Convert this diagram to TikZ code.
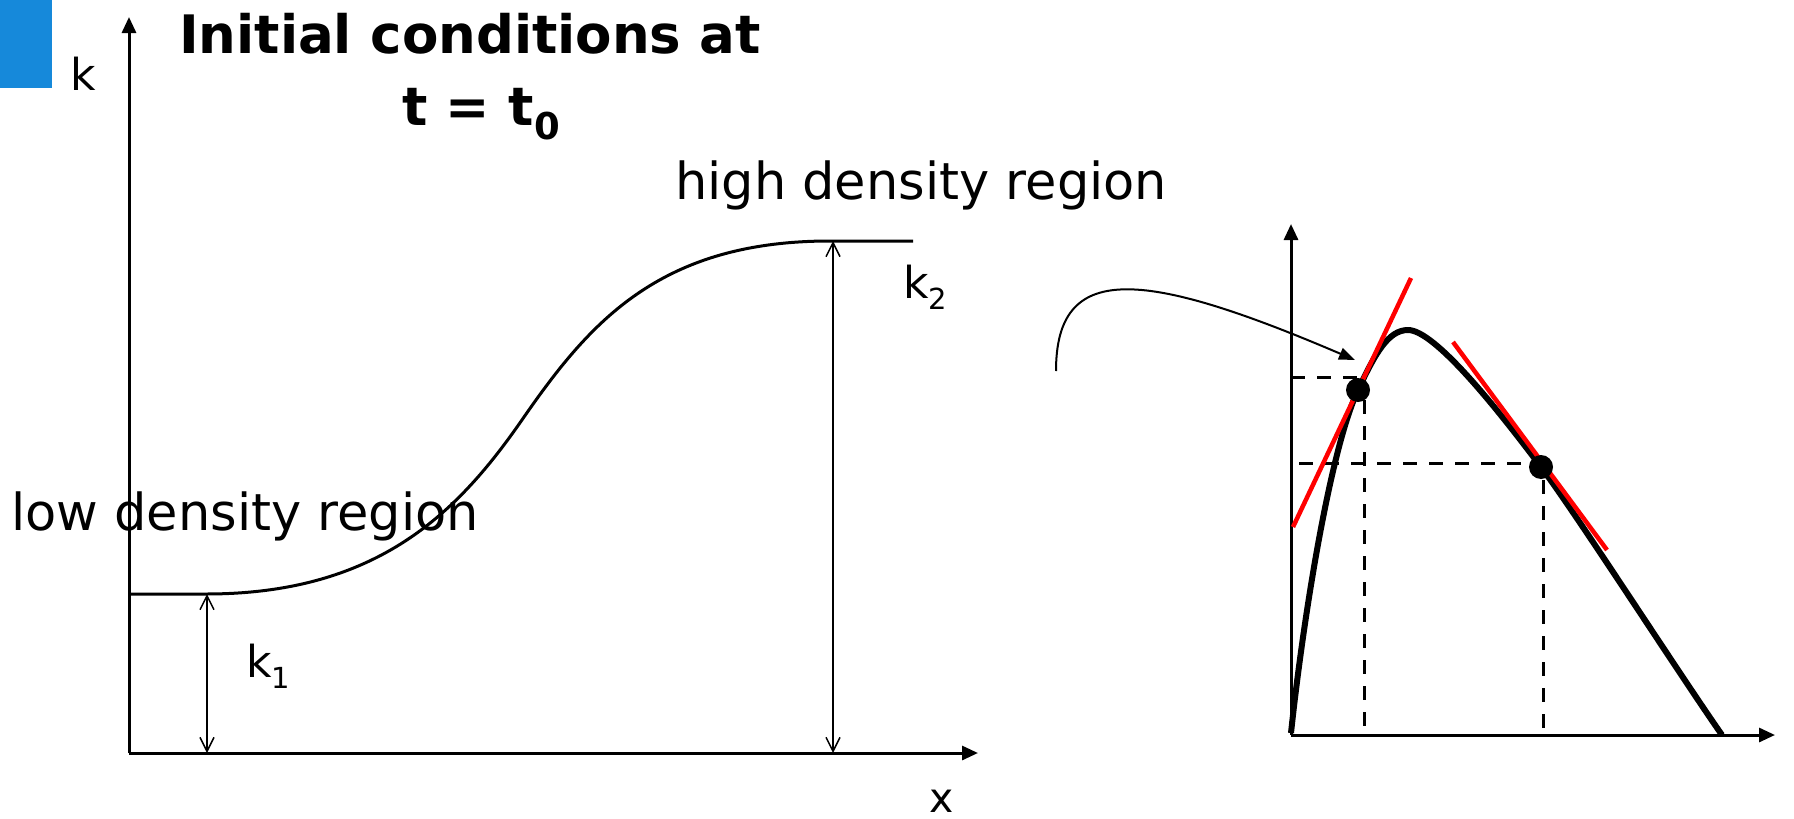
\documentclass[tikz,border=0pt]{standalone}
\usepackage{fontspec}
\setmainfont{DejaVu Sans}
\usetikzlibrary{arrows.meta}
\definecolor{blueblk}{HTML}{1689DA}
\begin{document}
\begin{tikzpicture}[x=1pt,y=-1pt,
  axis/.style={line width=3pt,-{Triangle[length=16pt,width=14pt]}},
  dim/.style={line width=1.5pt,{Straight Barb[length=14pt,width=14pt]}-{Straight Barb[length=14pt,width=14pt]}},
  curveL/.style={line width=3pt},
  curveR/.style={line width=6pt},
  tangent/.style={red, line width=4.5pt},
  guide/.style={line width=3pt, dash pattern=on 14pt off 12pt},
  dot/.style={circle, fill=black, inner sep=0pt, minimum size=24pt},
  lbl/.style={inner sep=0pt, anchor=base west, font=\fontsize{44}{50}\selectfont},
  big/.style={inner sep=0pt, anchor=base west, font=\fontsize{51}{60}\selectfont},
  ttl/.style={inner sep=0pt, font=\fontsize{53}{60}\selectfont\bfseries}]
\useasboundingbox (0,0) rectangle (1794,819);
\fill[blueblk] (0,0) rectangle (52,88);
% left plot
\coordinate (O1) at (129,753);
\coordinate (Y1) at (129,17);
\coordinate (X1) at (978,753);
\draw[axis] (O1) -- (Y1);
\draw[axis] (O1) -- (X1);
\coordinate (L0) at (129,594);
\coordinate (L1) at (206,594);
\coordinate (Lm) at (524,417);
\coordinate (L2) at (830,241);
\coordinate (L3) at (913,241);
\draw[curveL, line join=round] (L0) -- (L1) .. controls (380,594) and (460,510) .. (Lm) .. controls (590,322) and (660,241) .. (L2) -- (L3);
\coordinate (k1t) at (207,594);
\coordinate (k1b) at (207,753);
\coordinate (k2t) at (833,241);
\coordinate (k2b) at (833,753);
\draw[dim] (k1t) -- (k1b);
\draw[dim] (k2t) -- (k2b);
\node[lbl] (klab) at (70,90) {k};
\node[lbl] (k1lab) at (246,677) {k\raisebox{-11pt}{\fontsize{29}{30}\selectfont 1}};
\node[lbl] (k2lab) at (903,298) {k\raisebox{-11pt}{\fontsize{29}{30}\selectfont 2}};
\node[lbl, font=\fontsize{41}{50}\selectfont] (xlab) at (929,812) {x};
\node[big] (low) at (11,530) {low density region};
\node[big] (high) at (675,199) {high density region};
\node[ttl, anchor=base] (t1) at (470,53) {Initial conditions at};
\node[ttl, anchor=base west] (t2) at (402,125) {t = t\raisebox{-14pt}{\fontsize{37}{40}\selectfont\bfseries 0}};
% right plot
\coordinate (O2) at (1291,735);
\coordinate (Y2) at (1291,224);
\coordinate (X2) at (1775,735);
\draw[guide] (1291,377) -- (1360,377);
\draw[guide] (1364,400) -- (1364,735);
\draw[guide] (1299,463) -- (1537,463);
\draw[guide] (1543,480) -- (1543,735);
\draw[axis] (O2) -- (Y2);
\draw[axis] (O2) -- (X2);
\coordinate (c0) at (1291,733);
\coordinate (p1) at (1358,390);
\coordinate (pk) at (1408,330);
\coordinate (p2) at (1541,467);
\coordinate (c9) at (1722,735);
\draw[curveR, line join=round] (c0) .. controls (1303,620) and (1330,450) .. (p1)
  .. controls (1375,354) and (1388,330) .. (pk)
  .. controls (1435,330) and (1499,411) .. (p2)
  .. controls (1577,515) and (1680,675) .. (c9);
\coordinate (ta1) at (1293,527);
\coordinate (tb1) at (1411,278);
\coordinate (ta2) at (1453,342);
\coordinate (tb2) at (1607,550);
\draw[tangent] (ta1) -- (tb1);
\draw[tangent] (ta2) -- (tb2);
\node[dot] (d1) at (p1) {};
\node[dot] (d2) at (p2) {};
\coordinate (s) at (1056,371);
\coordinate (e) at (1355,360);
\draw[line width=2pt, -{Triangle[length=16pt,width=12pt]}] (s) .. controls (1056,262) and (1140,268) .. (e);
\end{tikzpicture}
\end{document}
